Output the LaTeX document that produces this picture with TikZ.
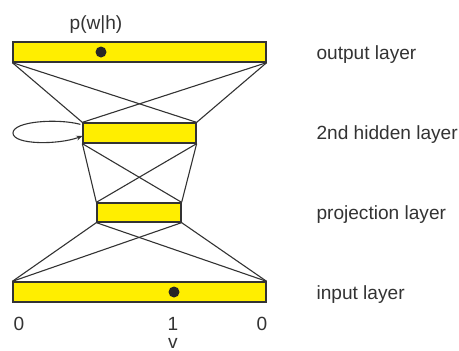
\documentclass[tikz,border=0pt]{standalone}
\usepackage{fontspec}
\setmainfont{Liberation Sans}
\usetikzlibrary{arrows.meta,positioning}
\definecolor{layeryellow}{HTML}{FFEE00}
\definecolor{inkgray}{HTML}{333333}
\tikzset{
  netline/.style={draw=inkgray, line width=1.1pt},
  looparr/.style={-{Stealth[length=6pt,width=5pt]}, draw=inkgray, line width=1.1pt},
  layerbox/.style={draw=inkgray, fill=layeryellow, line width=1.3pt, inner sep=0pt, minimum height=20pt},
}
\begin{document}
\begin{tikzpicture}[
  x=1pt, y=-1pt,
  font=\fontsize{19.1}{22}\selectfont, text=inkgray,
  lbl/.style={anchor=base west},
  unit/.style={circle, fill=black!85, minimum size=11pt, inner sep=0pt},
]
  \useasboundingbox (0,0) rectangle (459,351);
  \node[layerbox, minimum width=253pt] (outl) at (139.5,52) {};
  \node[layerbox, minimum width=113pt] (hidl) at (139.5,133) {};
  \node[layerbox, minimum width=84pt, minimum height=19pt] (projl) at (139,212.5) {};
  \node[layerbox, minimum width=253pt] (inpl) at (139.5,292) {};
  \node[unit] (outu) at (101,52) {};
  \node[unit] (inpu) at (174,292) {};
  \foreach \a/\b in {outl/hidl,hidl/projl,projl/inpl}
    \foreach \s in {west,east}
      \foreach \t in {west,east}
        \draw[netline] (\a.south \s) -- (\b.north \t);
  \coordinate (loopl) at (13,133);
  \draw[looparr] ([xshift=-2pt,yshift=-2pt]hidl.north west)
    .. controls +(-22,-6) and +(0,-12) .. (loopl)
    .. controls +(0,12) and +(-24,9) .. ([yshift=-3pt]hidl.west);
  \node[anchor=base] (pwh) at (96,29) {p(w|h)};
  \node[lbl] (outt) at (313,59) {output layer};
  \node[lbl] (hidt) at (313,139) {2nd hidden layer};
  \node[lbl] (projt) at (313,219) {projection layer};
  \node[lbl] (inpt) at (313,299) {input layer};
  \node[anchor=base] (zerol) at (19,330) {0};
  \node[anchor=base] (onev) at (173,330) {1};
  \node[anchor=base] (zeror) at (262,330) {0};
  \node[anchor=base, inner sep=0pt] (vidx) at (173,348.5) {v};
\end{tikzpicture}
\end{document}
